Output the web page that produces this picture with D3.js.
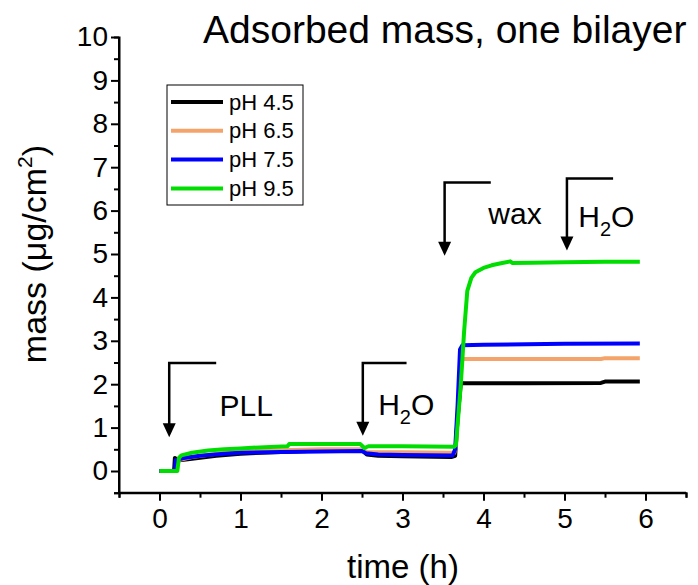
<!DOCTYPE html>
<html lang="en">
<head>
	<meta charset="UTF-8">
	<title>Adsorbed mass, one bilayer</title>
	<script src="https://d3js.org/d3.v7.min.js"></script>
	<style>
		body { margin: 0; background: #fff; }
		text { font-family: Arial, "Liberation Sans", sans-serif; fill: #000; }
	</style>
</head>
<body>
<svg id="chart" width="698" height="585"></svg>
<script>
// series: [time (h), mass (ug/cm2)]
var ph45 = [[0,0],[0.18,0],[0.19,0.3],[0.22,0.24],[0.4,0.28],[0.7,0.35],[1.0,0.4],[1.5,0.44],[2.0,0.47],[2.5,0.48],
	[2.56,0.38],[2.7,0.35],[3.0,0.34],[3.6,0.32],[3.65,0.35],[3.68,1.2],[3.72,2.02],[4.5,2.02],[5.45,2.03],[5.5,2.06],[5.93,2.06]];
var ph65 = [[0,0],[0.2,0],[0.21,0.24],[0.4,0.32],[0.8,0.42],[1.0,0.45],[1.5,0.48],[2.0,0.5],[2.5,0.5],
	[2.56,0.44],[3.0,0.43],[3.64,0.42],[3.66,0.6],[3.7,2.0],[3.74,2.58],[4.5,2.58],[5.45,2.58],[5.5,2.6],[5.93,2.6]];
var ph75 = [[0,0],[0.19,0],[0.2,0.25],[0.3,0.3],[0.5,0.35],[0.8,0.4],[1.0,0.42],[1.5,0.44],[2.0,0.45],[2.5,0.46],
	[2.55,0.41],[2.7,0.38],[3.0,0.37],[3.62,0.36],[3.65,0.5],[3.68,1.5],[3.71,2.8],[3.74,2.9],[4.0,2.91],[5.0,2.93],[5.93,2.94]];
var ph95 = [[0,0],[0.22,0],[0.24,0.3],[0.27,0.36],[0.4,0.42],[0.6,0.47],[0.8,0.5],[1.0,0.52],[1.3,0.55],[1.58,0.57],
	[1.6,0.62],[2.0,0.62],[2.48,0.62],[2.53,0.53],[2.58,0.57],[3.0,0.57],[3.64,0.56],[3.66,0.6],[3.72,2.0],[3.76,3.2],
	[3.8,4.15],[3.85,4.45],[3.9,4.58],[4.0,4.68],[4.1,4.74],[4.2,4.78],[4.33,4.83],[4.36,4.79],[4.6,4.8],[5.0,4.81],[5.5,4.82],[5.93,4.82]];

var seriesNames = ["pH 4.5", "pH 6.5", "pH 7.5", "pH 9.5"];
var seriesData = [ph45, ph65, ph75, ph95];
var colors = ["#000000", "#f4a46a", "#0000ff", "#00dd00"];

var xTicks = [0, 1, 2, 3, 4, 5, 6];
var yTicks = [0, 1, 2, 3, 4, 5, 6, 7, 8, 9, 10];

// injection markers: t, top of bracket, arrow tip, bracket end, label position
var events = [
	{t:0.12, top:2.49, tip:0.78, end:0.70, label:"PLL", lt:0.74, lv:1.27},
	{t:2.51, top:2.49, tip:0.81, end:3.05, label:"H2O", lt:2.70, lv:1.29},
	{t:3.52, top:6.65, tip:4.96, end:4.09, label:"wax", lt:4.06, lv:5.69},
	{t:5.03, top:6.74, tip:5.08, end:5.60, label:"H2O", lt:5.17, lv:5.63}
];

var svg = d3.select("#chart");

var x = d3.scaleLinear().domain([-0.5, 6.5]).range([119, 686]);
var y = d3.scaleLinear().domain([-0.5, 10]).range([492.7, 37]);

// axes
var xAxis = svg.append("g").attr("transform", "translate(0," + y(-0.5) + ")")
	.call(d3.axisBottom(x).tickValues(xTicks).tickSize(8).tickPadding(7).tickFormat(d3.format("d")));
svg.append("g").attr("transform", "translate(0," + y(-0.5) + ")")
	.call(d3.axisBottom(x).tickValues(d3.range(-0.5, 6.6, 1)).tickSize(5).tickFormat(""));

var yAxis = svg.append("g").attr("transform", "translate(" + x(-0.5) + ",0)")
	.call(d3.axisLeft(y).tickValues(yTicks).tickSize(8).tickPadding(3).tickFormat(d3.format("d")));
svg.append("g").attr("transform", "translate(" + x(-0.5) + ",0)")
	.call(d3.axisLeft(y).tickValues(d3.range(-0.5, 9.6, 1)).tickSize(5).tickFormat(""));

svg.selectAll(".domain").attr("stroke", "#000").attr("stroke-width", 2);
svg.selectAll(".tick line").attr("stroke", "#000").attr("stroke-width", 2);
svg.selectAll(".tick text").style("font-size", "28px").attr("fill", "#000");
xAxis.select(".domain").attr("d", "M" + x(-0.5) + ",0H" + x(6.5));
yAxis.select(".domain").attr("d", "M0," + y(-0.5) + "V" + y(10));

// axis titles
svg.append("text").attr("x", 403).attr("y", 578).attr("text-anchor", "middle")
	.style("font-size", "33px").text("time (h)");
var yl = svg.append("text").attr("transform", "translate(46,254) rotate(-90)")
	.attr("text-anchor", "middle").style("font-size", "34px");
yl.append("tspan").text("mass (\u03bcg/cm");
yl.append("tspan").attr("dy", -14).style("font-size", "21px").text("2");
yl.append("tspan").attr("dy", 14).text(")");

// title
svg.append("text").attr("x", 203).attr("y", 43).style("font-size", "39px")
	.text("Adsorbed mass, one bilayer");

// lines
var line = d3.line().x(function(d) { return x(d[0]); }).y(function(d) { return y(d[1]); });
svg.selectAll(".series").data(seriesData).enter().append("path")
	.attr("class", "series")
	.attr("d", line)
	.attr("fill", "none")
	.attr("stroke", function(d, i) { return colors[i]; })
	.attr("stroke-width", 4)
	.attr("stroke-linejoin", "round");

// event brackets + arrows
var ev = svg.selectAll(".ev").data(events).enter().append("g").attr("class", "ev");
ev.append("path")
	.attr("d", function(d) {
		return "M" + x(d.end) + "," + y(d.top) + "H" + x(d.t) + "V" + (y(d.tip) - 12);
	})
	.attr("fill", "none").attr("stroke", "#000").attr("stroke-width", 2.5);
ev.append("path")
	.attr("d", function(d) {
		var px = x(d.t), py = y(d.tip);
		return "M" + (px - 6.5) + "," + (py - 14) + "L" + (px + 6.5) + "," + (py - 14) + "L" + px + "," + py + "Z";
	})
	.attr("fill", "#000");
var lab = ev.append("text")
	.attr("x", function(d) { return x(d.lt); })
	.attr("y", function(d) { return y(d.lv); })
	.style("font-size", "30px");
lab.each(function(d) {
	var t = d3.select(this);
	if (d.label === "H2O") {
		t.append("tspan").text("H");
		t.append("tspan").attr("dy", 9).style("font-size", "20px").text("2");
		t.append("tspan").attr("dy", -9).text("O");
	} else {
		t.text(d.label);
	}
});

// legend
var lg = svg.append("g");
lg.append("rect").attr("x", 167).attr("y", 85).attr("width", 136).attr("height", 120)
	.attr("fill", "#fff").attr("stroke", "#000").attr("stroke-width", 1);
var rows = lg.selectAll(".lr").data(seriesNames).enter().append("g")
	.attr("transform", function(d, i) { return "translate(0," + (102 + i * 28.8) + ")"; });
rows.append("line").attr("x1", 171).attr("x2", 223)
	.attr("stroke", function(d, i) { return colors[i]; }).attr("stroke-width", 4);
rows.append("text").attr("x", 229).attr("y", 7.5).style("font-size", "22px").text(function(d) { return d; });
</script>
</body>
</html>
